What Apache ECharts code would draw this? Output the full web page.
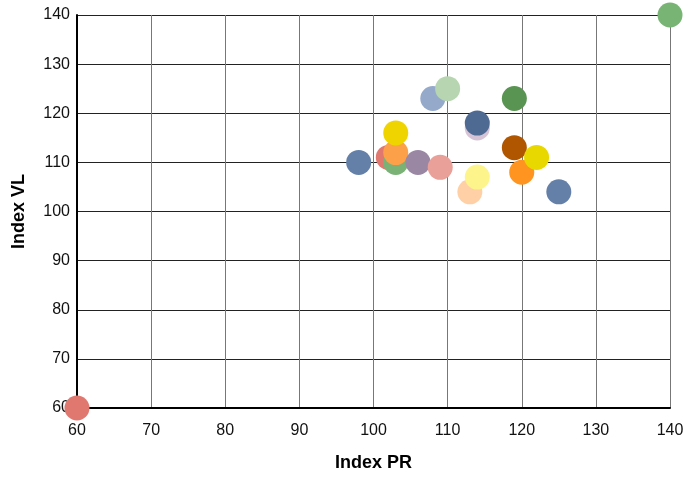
<!DOCTYPE html>
<html>
<head>
<meta charset="utf-8">
<script src="https://cdn.jsdelivr.net/npm/echarts@6/dist/echarts.min.js"></script>
<style>html,body{margin:0;padding:0;background:#fff}#c{width:684px;height:477px}</style>
</head>
<body>
<div id="c"></div>
<script>
// Data (Index PR, Index VL), in drawing order
const indexPR = [60, 140, 98, 102, 103, 103, 103, 106, 109, 108, 110, 114, 114, 113, 114, 119, 119, 120, 122, 125];
const indexVL = [60, 140, 110, 111, 110, 112, 116, 110, 109, 123, 125, 117, 118, 104, 107, 123, 113, 108, 111, 104];
const xTicks = [60, 70, 80, 90, 100, 110, 120, 130, 140];
const yTicks = [60, 70, 80, 90, 100, 110, 120, 130, 140];

const palette = ['#e07870', '#78b474', '#6480a8', '#e07870', '#7ab276', '#fda04a', '#f0d400', '#9a87a4', '#e8a098', '#95aacb',
                 '#b6d5b0', '#d6c4d6', '#4f6a92', '#ffd0a6', '#fdf48c', '#5a9452', '#b05500', '#ff9420', '#e8d800', '#6480a8'];

const points = indexPR.map((x, i) => ({ value: [x, indexVL[i]], itemStyle: { color: palette[i] } }));

const chart = echarts.init(document.getElementById('c'), null, { renderer: 'canvas' });
const font = '"Liberation Sans", Arial, sans-serif';
chart.setOption({
  animation: false,
  grid: { left: 77, right: 14, top: 15, bottom: 69, containLabel: false, outerBoundsMode: 'none' },
  xAxis: {
    type: 'value', min: xTicks[0], max: xTicks[xTicks.length - 1], interval: 10,
    name: 'Index PR', nameLocation: 'middle', nameGap: 46,
    nameTextStyle: { fontFamily: font, fontSize: 18, fontWeight: 'bold', color: '#000' },
    axisLine: { show: true, lineStyle: { color: '#000', width: 2 } },
    axisTick: { show: false },
    axisLabel: { fontFamily: font, fontSize: 16, color: '#111', margin: 15 },
    splitLine: { show: true, lineStyle: { color: '#777', width: 1 } }
  },
  yAxis: {
    type: 'value', min: yTicks[0], max: yTicks[yTicks.length - 1], interval: 10,
    name: 'Index VL', nameLocation: 'middle', nameGap: 49, nameRotate: 90,
    nameTextStyle: { fontFamily: font, fontSize: 18, fontWeight: 'bold', color: '#000' },
    axisLine: { show: true, lineStyle: { color: '#000', width: 2 } },
    axisTick: { show: false },
    axisLabel: { fontFamily: font, fontSize: 16, color: '#111', margin: 7 },
    splitLine: { show: true, lineStyle: { color: '#222', width: 1 } }
  },
  series: [{
    type: 'scatter',
    clip: false,
    symbolSize: 25,
    data: points,
    itemStyle: { opacity: 1 }
  }]
});
</script>
</body>
</html>
